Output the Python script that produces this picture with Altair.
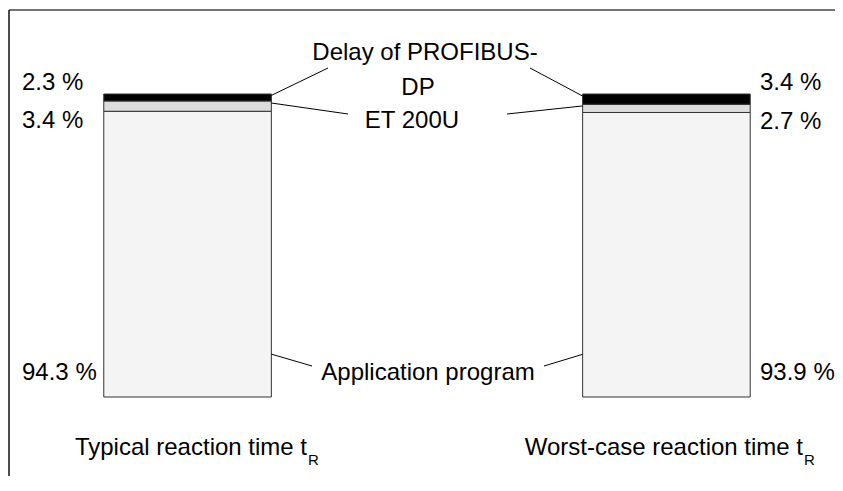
import altair as alt
import pandas as pd

# ---------------- data ----------------
categories = ["Typical", "Worst-case"]
components = ["Application program", "ET 200U", "Delay of PROFIBUS-DP"]
typical_pct = [94.3, 3.4, 2.3]
worst_pct = [93.9, 2.7, 3.4]
bottom_titles = ["Typical reaction time t", "Worst-case reaction time t"]
subscript = "R"
callout_lines = ["Delay of PROFIBUS-", "DP", "ET 200U", "Application program"]
fills = ["#f4f4f4", "#dcdcdc", "#000000"]
anchor_frac = [0.15, 0.8, 0.8]

rows = []
for cat, vals in zip(categories, [typical_pct, worst_pct]):
    cum = 0.0
    for i, (comp, v) in enumerate(zip(components, vals)):
        rows.append(dict(cat=cat, comp=comp, order=i, pct=v, y0=cum, y1=cum + v,
                         anchor=cum + v * anchor_frac[i], label=f"{v} %"))
        cum += v
df = pd.DataFrame(rows)

FONT = "Liberation Sans"
FS = 24
W, H = 827, 468

xs = alt.Scale(domain=categories, range=[0, 838], paddingInner=0.65, paddingOuter=0.2)
ys = alt.Scale(domain=[0, 100], range=[389, 86], nice=False, zero=False)

base = alt.Chart(df)

bars = base.mark_bar(stroke="#333333", strokeWidth=1).encode(
    x=alt.X("cat:N", scale=xs, axis=None),
    y=alt.Y("y0:Q", scale=ys, axis=None),
    y2="y1:Q",
    color=alt.Color("comp:N", scale=alt.Scale(domain=components, range=fills), legend=None),
)

layers = [bars]

# percent labels
label_x = {"Typical": 14, "Worst-case": 752}
label_field = {components[0]: ("y0", -17), components[1]: ("y0", 17), components[2]: ("y1", -4)}
for cat in categories:
    for comp in components:
        fld, dy = label_field[comp]
        layers.append(
            base.transform_filter((alt.datum.cat == cat) & (alt.datum.comp == comp))
            .mark_text(align="left", baseline="alphabetic", font=FONT, fontSize=FS, dy=dy, color="black")
            .encode(x=alt.value(label_x[cat]), y=alt.Y(f"{fld}:Q", scale=ys), text="label:N")
        )

# leader lines (bar end anchored by scales, text end at callout)
leader_end = {
    ("Typical", components[2]): (320, 60),
    ("Worst-case", components[2]): (522, 60),
    ("Typical", components[1]): (340, 106),
    ("Worst-case", components[1]): (499, 106),
    ("Typical", components[0]): (304, 358),
    ("Worst-case", components[0]): (536, 358),
}
for (cat, comp), (ex, ey) in leader_end.items():
    bp = 1 if cat == "Typical" else 0
    layers.append(
        base.transform_filter((alt.datum.cat == cat) & (alt.datum.comp == comp))
        .mark_rule(color="black", strokeWidth=1)
        .encode(
            x=alt.X("cat:N", scale=xs, bandPosition=bp),
            y=alt.Y("anchor:Q", scale=ys),
            x2=alt.value(ex),
            y2=alt.value(ey),
        )
    )

# callout texts
callout_pos = [(417, 52), (410, 87), (404, 120), (420, 372)]
one = alt.Data(values=[{"k": 0}])
for txt, (cx, cy) in zip(callout_lines, callout_pos):
    layers.append(
        alt.Chart(one).mark_text(align="center", baseline="alphabetic", font=FONT, fontSize=FS,
                                 color="black", text=txt)
        .encode(x=alt.value(cx), y=alt.value(cy))
    )

# bottom titles with subscript R
title_end = [299, 795]
for txt, ex in zip(bottom_titles, title_end):
    layers.append(
        alt.Chart(one).mark_text(align="right", baseline="alphabetic", font=FONT, fontSize=FS,
                                 color="black", text=txt)
        .encode(x=alt.value(ex), y=alt.value(447))
    )
    layers.append(
        alt.Chart(one).mark_text(align="left", baseline="alphabetic", font=FONT, fontSize=15,
                                 color="black", text=subscript)
        .encode(x=alt.value(ex + 1), y=alt.value(457))
    )

# frame lines
layers.append(
    alt.Chart(one).mark_rule(color="#444444", strokeWidth=1.5)
    .encode(x=alt.value(1), x2=alt.value(W + 5), y=alt.value(2), y2=alt.value(2))
)
layers.append(
    alt.Chart(one).mark_rule(color="#111111", strokeWidth=1.5)
    .encode(x=alt.value(1), x2=alt.value(1), y=alt.value(2), y2=alt.value(H + 5))
)

chart = (
    alt.layer(*layers)
    .properties(width=W, height=H, padding=0, autosize="none")
    .configure_view(stroke=None)
)

chart.save("out.html", embed_options={"renderer": "svg", "actions": False})
